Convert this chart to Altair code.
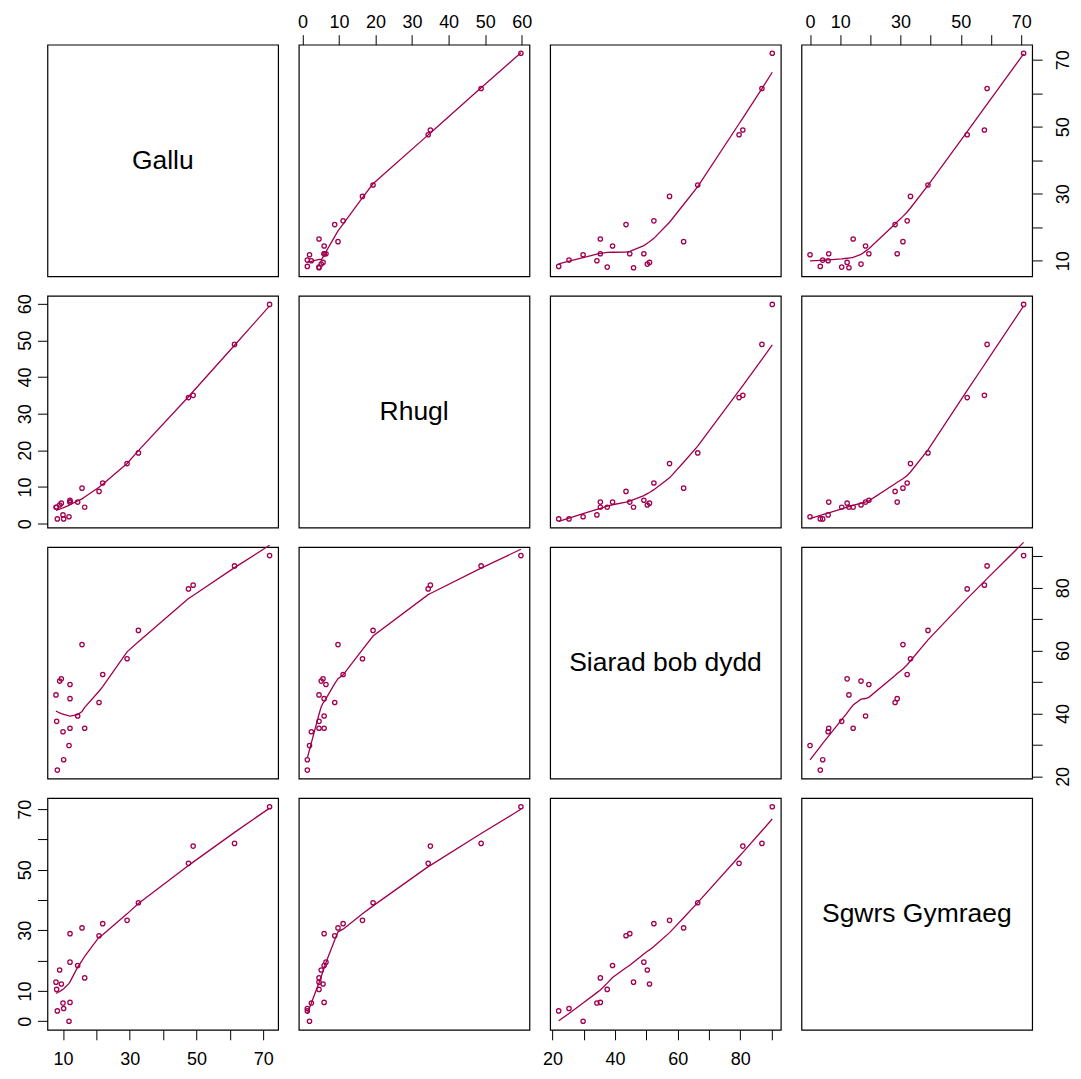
import altair as alt
import numpy as np
import pandas as pd

names = ["Gallu", "Rhugl", "Siarad bob dydd", "Sgwrs Gymraeg"]

gallu = [71.9, 61.4, 49.0, 47.6, 32.6, 29.2, 21.9, 20.8, 15.7, 16.5, 14.4,
         12.1, 12.1, 12.1, 9.5, 9.0, 7.9, 8.1, 10.0, 11.8, 10.2, 8.3]
rhugl = [59.8, 48.9, 35.0, 34.4, 19.3, 16.4, 11.1, 8.8, 9.7, 4.5, 5.9,
         6.4, 5.9, 5.9, 5.6, 5.1, 4.5, 4.5, 2.4, 1.9, 1.3, 1.3]
siarad = [90.2, 86.9, 80.8, 79.6, 66.4, 57.4, 52.4, 43.5, 61.9, 35.3, 39.2,
          49.2, 44.7, 35.3, 51.0, 50.3, 45.9, 37.5, 34.2, 29.8, 25.3, 22.0]
sgwrs = [70.8, 58.7, 57.8, 52.1, 39.1, 33.3, 32.2, 28.2, 30.8, 14.3, 18.4,
         19.5, 28.9, 6.2, 12.3, 16.9, 12.9, 10.5, 6.0, 0.0, 4.2, 3.4]

tick_values = {
    "Gallu": [10, 20, 30, 40, 50, 60, 70],
    "Rhugl": [0, 10, 20, 30, 40, 50, 60],
    "Siarad bob dydd": [20, 30, 40, 50, 60, 70, 80, 90],
    "Sgwrs Gymraeg": [0, 10, 20, 30, 40, 50, 60, 70],
}
tick_labels = {
    "Gallu": [10, 30, 50, 70],
    "Rhugl": [0, 10, 20, 30, 40, 50, 60],
    "Siarad bob dydd": [20, 40, 60, 80],
    "Sgwrs Gymraeg": [0, 10, 30, 50, 70],
}

COLOR = "#A0004E"
W, H = 231, 232
FONT = "Liberation Sans"

series = {"Gallu": gallu, "Rhugl": rhugl, "Siarad bob dydd": siarad, "Sgwrs Gymraeg": sgwrs}


def lowess(x, y, f=2 / 3, nsteps=3):
    x = np.asarray(x, float)
    y = np.asarray(y, float)
    order = np.argsort(x, kind="mergesort")
    x = x[order]
    y = y[order]
    n = len(x)
    rng = x[-1] - x[0]
    delta = 0.01 * rng
    ns = max(2, min(n, int(f * n + 1e-7)))
    ys = np.zeros(n)
    rw = np.ones(n)

    def lowest(xs, nleft, nright, userw):
        h = max(xs - x[nleft], x[nright] - xs)
        h9, h1 = 0.999 * h, 0.001 * h
        w = np.zeros(n)
        a = 0.0
        j = nleft
        while j < n:
            r = abs(x[j] - xs)
            if r <= h9:
                w[j] = 1.0 if r <= h1 else (1 - (r / h) ** 3) ** 3
                if userw:
                    w[j] *= rw[j]
                a += w[j]
            elif x[j] > xs:
                break
            j += 1
        nrt = j - 1
        if a <= 0:
            return None
        sl = slice(nleft, nrt + 1)
        w[sl] /= a
        if h > 0:
            a = np.sum(w[sl] * x[sl])
            b = xs - a
            c = np.sum(w[sl] * (x[sl] - a) ** 2)
            if np.sqrt(c) > 0.001 * rng:
                b /= c
                w[sl] = w[sl] * (b * (x[sl] - a) + 1)
        return float(np.sum(w[sl] * y[sl]))

    for it in range(1, nsteps + 2):
        nleft, nright, last, i = 0, ns - 1, -1, 0
        while True:
            if nright < n - 1:
                d1 = x[i] - x[nleft]
                d2 = x[nright + 1] - x[i]
                if d1 > d2:
                    nleft += 1
                    nright += 1
                    continue
            val = lowest(x[i], nleft, nright, it > 1)
            ys[i] = y[i] if val is None else val
            if last < i - 1:
                denom = x[i] - x[last]
                for j in range(last + 1, i):
                    alpha = (x[j] - x[last]) / denom
                    ys[j] = alpha * ys[i] + (1 - alpha) * ys[last]
            last = i
            cut = x[last] + delta
            i = last + 1
            while i < n:
                if x[i] > cut:
                    break
                if x[i] == x[last]:
                    ys[i] = ys[last]
                    last = i
                i += 1
            i = max(last + 1, i - 1)
            if last >= n - 1:
                break
        res = y - ys
        if it > nsteps:
            break
        sc = np.mean(np.abs(res))
        cmad = 6 * np.median(np.abs(res))
        if cmad < 1e-7 * sc:
            break
        c9, c1 = 0.999 * cmad, 0.001 * cmad
        r = np.abs(res)
        rw = np.where(r <= c1, 1.0, np.where(r <= c9, (1 - (r / cmad) ** 2) ** 2, 0.0))
    return x, ys


def domain(name):
    v = np.asarray(series[name], float)
    lo, hi = v.min(), v.max()
    r = hi - lo
    return [float(lo - 0.04 * r), float(hi + 0.04 * r)]


def make_axis(name, orient):
    shown = ",".join(str(v) for v in tick_labels[name])
    common = dict(
        orient=orient,
        values=tick_values[name],
        tickCount=len(tick_values[name]),
        labelExpr=f"indexof([{shown}], datum.value) >= 0 ? datum.label : ''",
        tickSize=10,
        tickColor="black",
        tickWidth=1,
        domain=False,
        grid=False,
        labelFontSize=18,
        labelFont=FONT,
        labelColor="black",
        labelOverlap=False,
        labelFlush=False,
        labelBound=False,
        title=None,
    )
    if orient == "top":
        common.update(labelAngle=0, labelAlign="center", labelBaseline="bottom", labelPadding=3)
    elif orient == "bottom":
        common.update(labelAngle=0, labelAlign="center", labelBaseline="top", labelPadding=10.5)
    elif orient == "left":
        common.update(labelAngle=270, labelAlign="center", labelBaseline="bottom", labelPadding=3)
    else:
        common.update(labelAngle=270, labelAlign="center", labelBaseline="top", labelPadding=12)
    return alt.Axis(**common)


panels = []
for i, yname in enumerate(names):
    for j, xname in enumerate(names):
        if i == j:
            c = alt.Chart(pd.DataFrame({"t": [yname]})).mark_text(
                fontSize=26.5, font=FONT, color="black", baseline="middle", align="center"
            ).encode(
                x=alt.value(W / 2), y=alt.value(H / 2), text="t:N"
            ).properties(width=W, height=H)
            panels.append(c)
            continue
        xaxis = None
        yaxis = None
        if i == 0 and j % 2 == 1:
            xaxis = make_axis(xname, "top")
        if i == 3 and j % 2 == 0:
            xaxis = make_axis(xname, "bottom")
        if j == 0 and i % 2 == 1:
            yaxis = make_axis(yname, "left")
        if j == 3 and i % 2 == 0:
            yaxis = make_axis(yname, "right")
        pts = pd.DataFrame({"x": series[xname], "y": series[yname]})
        lx, ly = lowess(series[xname], series[yname])
        line = pd.DataFrame({"x": lx, "y": ly, "k": np.arange(len(lx))})
        xs = alt.Scale(domain=domain(xname), nice=False, zero=False)
        ysc = alt.Scale(domain=domain(yname), nice=False, zero=False)
        p = alt.Chart(pts).mark_point(
            shape="circle", filled=False, size=19, strokeWidth=1.3, color=COLOR, opacity=1
        ).encode(
            x=alt.X("x:Q", scale=xs, axis=xaxis, title=None),
            y=alt.Y("y:Q", scale=ysc, axis=yaxis, title=None),
        )
        l = alt.Chart(line).mark_line(color=COLOR, strokeWidth=1.3).encode(
            x=alt.X("x:Q", scale=xs, axis=xaxis, title=None),
            y=alt.Y("y:Q", scale=ysc, axis=yaxis, title=None),
            order="k:Q",
        )
        panels.append(alt.layer(p, l).properties(width=W, height=H))

chart = alt.concat(
    *panels, columns=4, spacing={"row": 19.5, "column": 20.7}, bounds="flush"
).properties(
    padding={"left": 7.5, "top": 4, "right": 0, "bottom": 0},
    background="white",
).configure_view(
    stroke="black", strokeWidth=1.2
).configure_axis(grid=False)

chart.save("out.html", embed_options={"renderer": "svg", "actions": False})
